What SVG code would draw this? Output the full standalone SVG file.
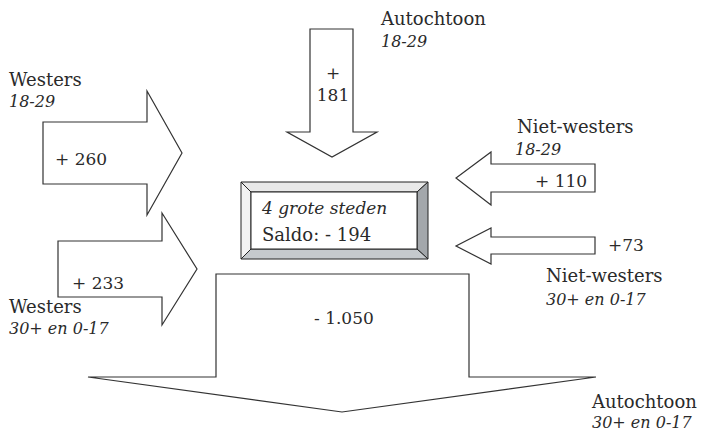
<svg xmlns="http://www.w3.org/2000/svg" width="708" height="433" viewBox="0 0 708 433">
<style>
.ar{fill:#fff;stroke:#333;stroke-width:1.2;stroke-linejoin:miter}
.t{font-family:"DejaVu Serif","Liberation Serif",serif;font-size:18px;fill:#2a2a2a}
.n{font-family:"DejaVu Serif","Liberation Serif",serif;font-size:17px;fill:#2a2a2a}
.i{font-family:"DejaVu Serif","Liberation Serif",serif;font-size:16px;font-style:italic;fill:#2a2a2a}
.bv{stroke:#222;stroke-width:1}
</style>
<rect width="708" height="433" fill="#fff"/>
<g id="connectors">
<polygon id="arrow-westers-18" class="ar" points="43,122 147,122 147,91 182,153 147,215 147,184 43,184"/>
<polygon id="arrow-westers-30" class="ar" points="58,241 162,241 162,213 197,269 162,325 162,297 58,297"/>
<polygon id="arrow-autochtoon-18" class="ar" points="310,29 353,29 353,132 377,132 332,157 287,132 310,132"/>
<polygon id="arrow-niet-18" class="ar" points="595,164 595,192 491,192 491,205 456,178 491,152 491,164"/>
<polygon id="arrow-niet-30" class="ar" points="595,237 595,254 491,254 491,264 456,246 491,228 491,237"/>
<polygon id="arrow-autochtoon-30" class="ar" points="216,274 469,274 469,377 596,377 342,412 88,377 216,377"/>
</g>
<g id="node-center">
<polygon class="bv" fill="#e9e9e9" points="241,182 428,182 417,192 251,192"/>
<polygon class="bv" fill="#f2f2f2" points="241,182 251,192 251,249 241,259"/>
<polygon class="bv" fill="#a3a7ab" points="428,182 428,259 417,249 417,192"/>
<polygon class="bv" fill="#c5c9cd" points="241,259 428,259 417,249 251,249"/>
<rect x="251" y="192" width="166" height="57" fill="#fff" stroke="#222" stroke-width="1"/>
<text class="i" x="262" y="214" style="font-size:17px">4 grote steden</text>
<text class="t" x="262" y="241">Saldo: - 194</text>
</g>
<g id="node-autochtoon-18">
<text class="t" x="381" y="25">Autochtoon</text>
<text class="i" x="381" y="47">18-29</text>
<text class="n" x="333" y="79" text-anchor="middle">+</text>
<text class="n" x="333" y="101" text-anchor="middle">181</text>
</g>
<g id="node-westers-18">
<text class="t" x="9" y="86">Westers</text>
<text class="i" x="9" y="107">18-29</text>
<text class="n" x="55" y="165">+ 260</text>
</g>
<g id="node-niet-18">
<text class="t" x="517" y="133">Niet-westers</text>
<text class="i" x="515" y="155">18-29</text>
<text class="n" x="535" y="187">+ 110</text>
</g>
<g id="node-niet-30">
<text class="n" x="608" y="251">+73</text>
<text class="t" x="546" y="282">Niet-westers</text>
<text class="i" x="546" y="305">30+ en 0-17</text>
</g>
<g id="node-westers-30">
<text class="n" x="72" y="289">+ 233</text>
<text class="t" x="9" y="313">Westers</text>
<text class="i" x="9" y="334">30+ en 0-17</text>
</g>
<g id="node-autochtoon-30">
<text class="n" x="314" y="324">- 1.050</text>
<text class="t" x="592" y="408">Autochtoon</text>
<text class="i" x="592" y="428">30+ en 0-17</text>
</g>
</svg>
